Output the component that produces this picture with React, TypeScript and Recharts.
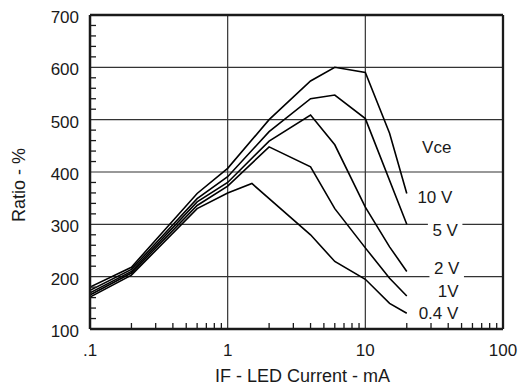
import { LineChart, Line, XAxis, YAxis, ReferenceLine, ReferenceDot } from "recharts"

// IF (mA) read points for each Vce curve
const current04 = [0.1, 0.2, 0.6, 1, 1.5, 4, 6, 10, 15, 20]
const ratio04 = [161, 203, 330, 360, 378, 280, 229, 195, 149, 130]
const current1 = [0.1, 0.2, 0.6, 1, 2, 4, 6, 10, 15, 20]
const ratio1 = [165, 207, 336, 373, 448, 410, 330, 255, 197, 163]
const current2 = [0.1, 0.2, 0.6, 1, 2, 4, 6, 10, 15, 20]
const ratio2 = [169, 210, 343, 380, 459, 509, 452, 333, 257, 210]
const current5 = [0.1, 0.2, 0.6, 1, 2, 4, 6, 10, 20]
const ratio5 = [174, 214, 349, 391, 477, 540, 547, 502, 300]
const current10 = [0.1, 0.2, 0.6, 1, 2, 4, 6, 10, 15, 20]
const ratio10 = [180, 218, 359, 407, 500, 574, 600, 590, 474, 359]

const majorX = [0.1, 1, 10, 100]
const majorXLabels = [".1", "1", "10", "100"]
const minorX = [
  0.2, 0.3, 0.4, 0.5, 0.6, 0.7, 0.8, 0.9,
  2, 3, 4, 5, 6, 7, 8, 9,
  20, 30, 40, 50, 60, 70, 80, 90,
]
const majorY = [100, 200, 300, 400, 500, 600, 700]
const minorY = [
  120, 140, 160, 180, 220, 240, 260, 280, 320, 340, 360, 380,
  420, 440, 460, 480, 520, 540, 560, 580, 620, 640, 660, 680,
]
const gridX = [1, 10]
const gridY = [200, 300, 400, 500, 600]

// curve labels, placed in data units
const curveLabels = [
  { text: "Vce", current: 33, ratio: 448 },
  { text: "10 V", current: 32, ratio: 352 },
  { text: "5 V", current: 38, ratio: 289 },
  { text: "2 V", current: 39, ratio: 216 },
  { text: "1V", current: 40, ratio: 173 },
  { text: "0.4 V", current: 34, ratio: 130 },
]

const zip = (xs: number[], ys: number[]) => xs.map((x, i) => ({ current: x, ratio: ys[i] }))

const series = [
  { name: "0.4 V", data: zip(current04, ratio04) },
  { name: "1 V", data: zip(current1, ratio1) },
  { name: "2 V", data: zip(current2, ratio2) },
  { name: "5 V", data: zip(current5, ratio5) },
  { name: "10 V", data: zip(current10, ratio10) },
]

const FONT = "'Liberation Sans', Arial, Helvetica, sans-serif"
const INK = "#1a1a1a"

const XTick = ({ x, y, payload }: any) => {
  const i = majorX.indexOf(payload.value)
  if (i >= 0) {
    return (
      <text x={x} y={y + 27} textAnchor="middle" fontSize={17} fill={INK} fontFamily={FONT}>
        {majorXLabels[i]}
      </text>
    )
  }
  return <line x1={x} x2={x} y1={y} y2={y - 6} stroke={INK} strokeWidth={1.3} />
}

const YTick = ({ x, y, payload }: any) => {
  if (majorY.includes(payload.value)) {
    return (
      <text x={x - 11} y={y + 8} textAnchor="end" fontSize={17} fill={INK} fontFamily={FONT}>
        {payload.value}
      </text>
    )
  }
  return <line x1={x} x2={x + 6} y1={y} y2={y} stroke={INK} strokeWidth={1.3} />
}

const CurveLabel = ({ cx, cy, text }: any) => {
  const w = text.length * 9.5 + 6
  return (
    <g>
      <rect x={cx - w / 2} y={cy - 10} width={w} height={20} fill="#fff" />
      <text x={cx} y={cy + 6} textAnchor="middle" fontSize={17} fill={INK} fontFamily={FONT}>
        {text}
      </text>
    </g>
  )
}

export default function App() {
  return (
    <div style={{ width: 518, height: 385, background: "#fff" }}>
      <style>{"body{margin:0}"}</style>
      <LineChart width={518} height={385} margin={{ top: 15, right: 15, left: 0, bottom: 0 }}>
        <XAxis
          dataKey="current"
          type="number"
          scale="log"
          domain={[0.1, 100]}
          allowDataOverflow
          ticks={[...majorX, ...minorX]}
          interval={0}
          tick={<XTick />}
          tickLine={false}
          axisLine={false}
          tickSize={0}
          tickMargin={0}
          height={56}
          label={{
            content: ({ viewBox }: any) => (
              <text
                x={viewBox.x + viewBox.width / 2 + 6}
                y={viewBox.y + 53}
                textAnchor="middle"
                fontSize={18}
                fill={INK}
                fontFamily={FONT}
              >
                IF - LED Current - mA
              </text>
            ),
          }}
        />
        <YAxis
          dataKey="ratio"
          type="number"
          domain={[100, 700]}
          allowDataOverflow
          ticks={[...majorY, ...minorY]}
          interval={0}
          tick={<YTick />}
          tickLine={false}
          axisLine={false}
          tickSize={0}
          tickMargin={0}
          width={90}
          label={{
            content: ({ viewBox }: any) => {
              const cx = viewBox.x + 19
              const cy = viewBox.y + viewBox.height / 2 + 13
              return (
                <text
                  x={cx}
                  y={cy}
                  transform={`rotate(-90 ${cx} ${cy})`}
                  textAnchor="middle"
                  dominantBaseline="central"
                  fontSize={18}
                  fill={INK}
                  fontFamily={FONT}
                >
                  Ratio - %
                </text>
              )
            },
          }}
        />
        {gridX.map((v) => (
          <ReferenceLine key={`gx${v}`} x={v} stroke="#333" strokeWidth={1.2} />
        ))}
        {gridY.map((v) => (
          <ReferenceLine key={`gy${v}`} y={v} stroke="#333" strokeWidth={1.2} />
        ))}
        {series.map((s) => (
          <Line
            key={s.name}
            data={s.data}
            dataKey="ratio"
            stroke="#000"
            strokeWidth={1.6}
            dot={false}
            isAnimationActive={false}
          />
        ))}
        {curveLabels.map((l) => (
          <ReferenceDot
            key={l.text}
            x={l.current}
            y={l.ratio}
            r={1}
            shape={(p: any) => <CurveLabel cx={p.cx} cy={p.cy} text={l.text} />}
          />
        ))}
        <ReferenceLine x={0.1} stroke={INK} strokeWidth={2.5} />
        <ReferenceLine x={100} stroke={INK} strokeWidth={2.3} />
        <ReferenceLine y={100} stroke={INK} strokeWidth={2.5} />
        <ReferenceLine y={700} stroke={INK} strokeWidth={2.5} />
      </LineChart>
    </div>
  )
}
